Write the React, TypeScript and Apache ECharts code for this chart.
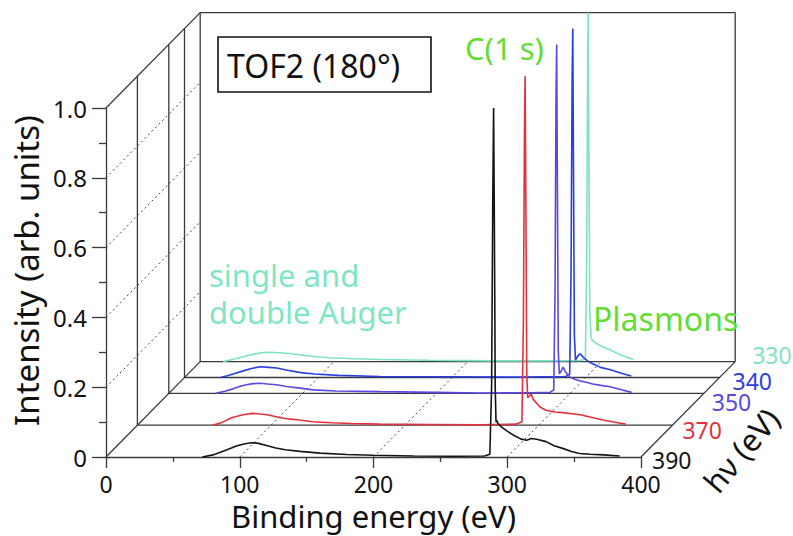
import React, { useEffect, useRef } from "react";
import * as echarts from "echarts";

// ---------- data ----------
const photonEnergies = [390, 370, 350, 340, 330];
const photonColors = ["#151515", "#e2323f", "#5a48e2", "#2a3fe0", "#7fe3c0"];
const energyTicks = [0, 100, 200, 300, 400];
const energyGuides = [100, 200, 300];
const intensityGuides = [0.2, 0.4, 0.6, 0.8];
const augerLabelLines = ["single and", "double Auger"];

const spec390: [number, number][] = [
  [72, 0], [80, 0.006], [90, 0.02], [98, 0.032], [104, 0.038], [109, 0.041], [114, 0.039], [120, 0.033],
  [127, 0.026], [134, 0.021], [145, 0.016], [160, 0.011], [180, 0.007], [200, 0.005], [230, 0.003],
  [260, 0.002], [283, 0.003], [287, 0.008], [288.3, 0.2], [289.2, 0.75], [289.8, 1.0], [290.4, 0.65],
  [291, 0.2], [291.6, 0.1], [292.3, 0.105], [293, 0.096], [296, 0.085], [300, 0.074], [304.5, 0.063],
  [310, 0.052], [314.5, 0.048], [318, 0.053], [322, 0.051], [329, 0.044], [335, 0.032], [342, 0.024],
  [348, 0.016], [354, 0.01], [362, 0.008], [372, 0.006], [384, 0.003],
];
const spec370: [number, number][] = [
  [56, 0], [62, 0.006], [71, 0.022], [79, 0.03], [86, 0.034], [92, 0.032], [98, 0.029], [106, 0.022],
  [113, 0.018], [121, 0.015], [131, 0.01], [145, 0.007], [160, 0.005], [181, 0.003], [220, 0.002],
  [256, 0.001], [283, 0.003], [287.5, 0.01], [288.6, 0.3], [289.4, 0.85], [289.9, 1.0], [290.5, 0.6],
  [291.1, 0.15], [291.8, 0.079], [293, 0.083], [294.3, 0.089], [296, 0.074], [298, 0.065], [301, 0.052],
  [305.5, 0.043], [312, 0.038], [318, 0.036], [325, 0.033], [331, 0.03], [340, 0.022], [348, 0.015],
  [356, 0.009], [365, 0.003],
];
const spec350: [number, number][] = [
  [35, 0], [42, 0.006], [48, 0.013], [54, 0.021], [58, 0.025], [63, 0.028], [68, 0.029], [74, 0.027],
  [80.5, 0.025], [88, 0.02], [98, 0.015], [108, 0.01], [125, 0.007], [158, 0.005], [200, 0.003],
  [232, 0.001], [270, 0.002], [285, 0.003], [287.8, 0.01], [288.8, 0.3], [289.5, 0.85], [290, 1.0],
  [290.6, 0.55], [291.2, 0.12], [292, 0.056], [293.5, 0.065], [294.8, 0.075], [296.5, 0.062], [300, 0.046],
  [304, 0.04], [307, 0.036], [312, 0.032], [317, 0.027], [323, 0.023], [330, 0.019], [337, 0.012], [346, 0.003],
];
const spec340: [number, number][] = [
  [27, 0], [32, 0.005], [37, 0.011], [44, 0.019], [50, 0.026], [57, 0.031], [63, 0.029], [69, 0.027],
  [77, 0.021], [87, 0.014], [97, 0.01], [115, 0.006], [146, 0.003], [200, 0.002], [250, 0.001],
  [285, 0.003], [288, 0.01], [289, 0.3], [289.8, 0.85], [290.3, 1.0], [290.9, 0.55], [291.5, 0.12],
  [292.3, 0.05], [293.5, 0.058], [294.8, 0.066], [296, 0.067], [299, 0.055], [302, 0.046], [306, 0.038],
  [311, 0.029], [318.5, 0.022], [326, 0.013], [334, 0.004],
];
const spec330: [number, number][] = [
  [17, 0], [24, 0.006], [30, 0.012], [35, 0.017], [42, 0.023], [49, 0.027], [56, 0.026], [67, 0.023],
  [77, 0.018], [87, 0.014], [97, 0.011], [115, 0.008], [135, 0.006], [170, 0.004], [220, 0.002],
  [260, 0.002], [285, 0.003], [288, 0.01], [289, 0.3], [289.7, 0.85], [290.1, 1.0], [290.6, 0.6],
  [291.3, 0.15], [292.2, 0.07], [292.8, 0.063], [294, 0.058], [297, 0.05], [300, 0.044], [303, 0.039],
  [306.5, 0.034], [311, 0.025], [316, 0.017], [320, 0.011], [324, 0.006],
];
const spectra = [spec390, spec370, spec350, spec340, spec330];

// ---------- layout ----------
const FONT = "'Noto Sans', 'Open Sans', sans-serif";
const FRONT = { left: 106, top: 108, width: 535, height: 349 };
const DEPTH = { x: 1.57, y: 1.59 }; // px per eV of photon energy
const FRAME = "#3a3a3a";
// label offsets (px) from each plane's right floor corner
const depthLabelOffsets = [[11, 3], [10, 5], [8, 9], [13, 3], [17, -7]];

export default function App() {
  const ref = useRef<HTMLDivElement>(null);

  useEffect(() => {
    const chart = echarts.init(ref.current!, null, { renderer: "svg" });
    const hv0 = photonEnergies[0];
    const grids = photonEnergies.map((hv) => {
      const d = hv0 - hv;
      return {
        left: FRONT.left + d * DEPTH.x,
        top: FRONT.top - d * DEPTH.y,
        width: FRONT.width,
        height: FRONT.height,
        containLabel: false,
        outerBoundsMode: "none",
      };
    });

    const xAxes = grids.map((_, k) => ({
      type: "value",
      gridIndex: k,
      min: energyTicks[0],
      max: energyTicks[energyTicks.length - 1],
      interval: 100,
      show: k === 0,
      name: k === 0 ? "Binding energy (eV)" : "",
      nameLocation: "middle",
      nameGap: 45,
      nameMoveOverlap: false,
      nameTextStyle: { fontFamily: FONT, fontSize: 31, lineHeight: 28, color: "#111" },
      axisLine: { show: true, lineStyle: { color: FRAME, width: 1.3 } },
      axisTick: { show: true, length: 11, lineStyle: { color: FRAME, width: 1.3 } },
      minorTick: { show: true, splitNumber: 2, length: 5, lineStyle: { color: FRAME, width: 1.3 } },
      axisLabel: { fontFamily: FONT, fontSize: 23, lineHeight: 20, color: "#111", margin: 17 },
      splitLine: { show: false },
    }));
    const yAxes = grids.map((_, k) => ({
      type: "value",
      gridIndex: k,
      min: 0,
      max: 1,
      interval: 0.2,
      show: k === 0,
      name: k === 0 ? "Intensity (arb. units)" : "",
      nameLocation: "middle",
      nameGap: 63,
      nameMoveOverlap: false,
      nameTextStyle: {
        fontFamily: FONT,
        fontSize: 33,
        lineHeight: 33,
        color: "#111",
        padding: [0, 0, 0, 24],
      },
      axisLine: { show: true, lineStyle: { color: FRAME, width: 1.3 } },
      axisTick: { show: true, length: 14, lineStyle: { color: FRAME, width: 1.3 } },
      minorTick: { show: true, splitNumber: 2, length: 7, lineStyle: { color: FRAME, width: 1.3 } },
      axisLabel: {
        fontFamily: FONT,
        fontSize: 24,
        color: "#111",
        margin: 19,
        formatter: (v: number) => (v === 0 ? "0" : v.toFixed(1)),
      },
      splitLine: { show: false },
    }));

    const series = photonEnergies.map((hv, k) => ({
      type: "line",
      name: `${hv} eV`,
      xAxisIndex: k,
      yAxisIndex: k,
      data: spectra[k],
      showSymbol: false,
      symbol: "none",
      clip: false,
      z: 10 - k,
      lineStyle: { color: photonColors[k], width: 1.6 },
    }));

    chart.setOption({
      animation: false,
      backgroundColor: "#ffffff",
      grid: grids,
      xAxis: xAxes,
      yAxis: yAxes,
      series,
    });

    const last = photonEnergies.length - 1;
    const px = (k: number, x: number, y: number) =>
      chart.convertToPixel({ gridIndex: k } as any, [x, y]) as number[];
    const seg = (a: number[], b: number[], dashed = false) => ({
      type: "line",
      silent: true,
      z: 1,
      shape: { x1: a[0], y1: a[1], x2: b[0], y2: b[1] },
      style: dashed
        ? { stroke: "#444", lineWidth: 1, lineDash: [2, 3] }
        : { stroke: FRAME, lineWidth: 1.3 },
    });

    const els: any[] = [];
    for (let k = 1; k <= last; k++) {
      els.push(seg(px(k, 0, 0), px(k, 400, 0)));
      els.push(seg(px(k, 0, 0), px(k, 0, 1)));
    }
    els.push(seg(px(0, 0, 1), px(last, 0, 1)));
    els.push(seg(px(0, 0, 0), px(last, 0, 0)));
    els.push(seg(px(0, 400, 0), px(last, 400, 0)));
    els.push(seg(px(last, 0, 1), px(last, 400, 1)));
    els.push(seg(px(last, 400, 0), px(last, 400, 1)));
    intensityGuides.forEach((t) => els.push(seg(px(0, 0, t), px(last, 0, t), true)));
    energyGuides.forEach((e) => els.push(seg(px(0, e, 0), px(last, e, 0), true)));

    photonEnergies.forEach((hv, k) => {
      const p = px(k, 400, 0);
      const o = depthLabelOffsets[k];
      els.push({
        type: "text",
        x: p[0] + o[0],
        y: p[1] + o[1],
        silent: true,
        style: {
          text: String(hv),
          fill: photonColors[k],
          fontFamily: FONT,
          fontSize: 23,
          lineHeight: 20,
          align: "left",
          verticalAlign: "middle",
        },
      });
    });
    els.push({
      type: "text",
      x: 741,
      y: 450,
      rotation: (50 * Math.PI) / 180,
      silent: true,
      style: {
        text: "hν (eV)",
        fill: "#111",
        fontFamily: FONT,
        fontSize: 31,
        lineHeight: 28,
        align: "center",
        verticalAlign: "middle",
      },
    });

    els.push({
      type: "rect",
      silent: true,
      shape: { x: 218, y: 37, width: 213, height: 55 },
      style: { fill: "#fff", stroke: "#111", lineWidth: 1.6 },
      z: 5,
    });
    els.push({
      type: "text",
      x: 227,
      y: 65,
      silent: true,
      z: 6,
      style: { text: "TOF2 (180°)", fill: "#111", fontFamily: FONT, fontSize: 32, align: "left", verticalAlign: "middle" },
    });
    els.push({
      type: "text",
      x: 465,
      y: 48,
      silent: true,
      z: 6,
      style: { text: "C(1 s)", fill: "#62dd33", fontFamily: FONT, fontSize: 31, align: "left", verticalAlign: "middle" },
    });
    els.push({
      type: "text",
      x: 593,
      y: 318,
      silent: true,
      z: 6,
      style: { text: "Plasmons", fill: "#62dd33", fontFamily: FONT, fontSize: 32, align: "left", verticalAlign: "middle" },
    });
    augerLabelLines.forEach((line, i) => {
      els.push({
        type: "text",
        x: 209,
        y: 275 + i * 37,
        silent: true,
        z: 6,
        style: {
          text: line,
          fill: "#7fe6c4",
          fontFamily: FONT,
          fontSize: 31,
          lineHeight: 30,
          align: "left",
          verticalAlign: "middle",
        },
      });
    });

    chart.setOption({ graphic: { elements: els } });

    return () => chart.dispose();
  }, []);

  return <div ref={ref} style={{ position: "fixed", left: 0, top: 0, width: 793, height: 536 }} />;
}
